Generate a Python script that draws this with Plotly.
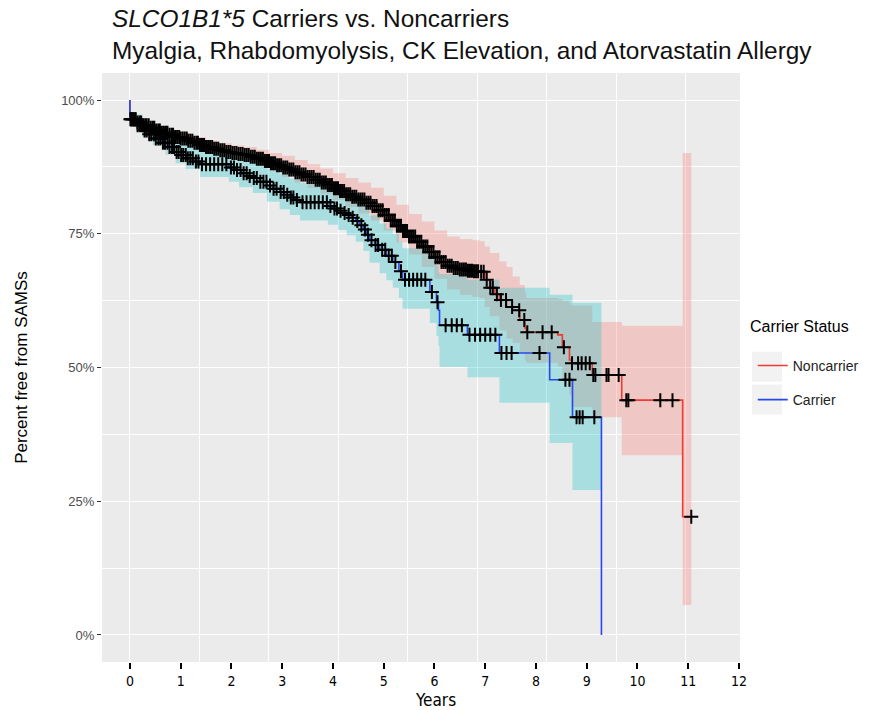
import plotly.graph_objects as go

# ---------------- data ----------------
years_ticks = list(range(0, 13))
pct_ticks = [0, 25, 50, 75, 100]
pct_labels = ["0%", "25%", "50%", "75%", "100%"]

# Noncarrier Kaplan-Meier steps (years, % free)
nc_t = [0, 0, 0.125, 0.25, 0.375, 0.5, 0.625, 0.75, 0.875, 1.0, 1.125, 1.25, 1.375, 1.5, 1.625, 1.75,
        1.875, 2.0, 2.125, 2.25, 2.375, 2.5, 2.625, 2.75, 2.875, 3.0, 3.125, 3.25, 3.375, 3.5, 3.625,
        3.75, 3.875, 4.0, 4.125, 4.25, 4.375, 4.5, 4.625, 4.75, 4.875, 5.0, 5.125, 5.25, 5.375, 5.5,
        5.625, 5.75, 5.875, 6.0, 6.125, 6.25, 6.375, 6.5, 6.625, 6.75, 6.89, 6.99, 7.09, 7.19, 7.28,
        7.42, 7.54, 7.68, 7.78, 7.81, 8.43, 8.52, 8.66, 8.70, 9.11, 9.69, 10.89]
nc_s = [100, 96.4, 95.8, 95.3, 94.8, 94.3, 93.9, 93.5, 93.1, 92.8, 92.4, 92.0, 91.6, 91.2, 90.9, 90.6,
        90.3, 90.1, 89.9, 89.7, 89.4, 89.0, 88.6, 88.2, 87.8, 87.4, 87.0, 86.5, 86.1, 85.6, 85.1,
        84.6, 84.1, 83.5, 83.0, 82.4, 81.9, 81.4, 80.8, 80.2, 79.4, 78.5, 77.5, 76.5, 75.5, 74.5,
        73.5, 72.6, 71.6, 70.6, 69.7, 69.0, 68.6, 68.3, 68.1, 68.0, 67.9, 66.4, 64.9, 63.7, 62.6,
        61.3, 60.7, 58.9, 57.4, 56.6, 56.1, 53.8, 51.4, 50.8, 48.6, 43.9, 22.1]
nc_end = 11.06

# Noncarrier confidence band (years, upper %, lower %)
nc_band_t = [0, 0.25, 0.5, 0.75, 1.0, 1.25, 1.5, 1.75, 2.0, 2.25, 2.5, 2.75, 3.0, 3.25, 3.5, 3.75,
             4.0, 4.25, 4.5, 4.75, 5.0, 5.25, 5.5, 5.75, 6.0, 6.25, 6.5, 6.75, 6.89, 6.99, 7.09, 7.28,
             7.42, 7.54, 7.68, 7.78, 7.81, 8.43, 8.52, 8.66, 8.70, 9.11, 9.69, 10.89]
nc_upper = [97.0, 96.0, 95.1, 94.4, 93.8, 93.1, 92.4, 91.9, 91.5, 91.2, 90.7, 90.1, 89.6, 88.8, 88.0,
            87.2, 86.3, 85.4, 84.6, 83.6, 82.1, 80.4, 78.7, 77.3, 75.6, 74.5, 74.0, 73.8, 73.6, 72.6,
            71.4, 69.8, 68.8, 67.0, 65.4, 64.0, 63.0, 62.8, 62.5, 62.0, 61.6, 58.5, 57.8, 90.1]
nc_lower = [95.9, 94.7, 93.6, 92.8, 92.0, 91.1, 90.2, 89.5, 88.9, 88.4, 87.6, 86.7, 85.6, 84.6, 83.6,
            82.5, 81.3, 80.0, 78.8, 77.5, 75.6, 73.4, 71.1, 68.8, 66.6, 64.6, 63.6, 63.2, 63.0, 61.3,
            59.6, 56.9, 55.4, 54.6, 52.8, 51.3, 50.9, 50.2, 47.5, 44.8, 42.6, 40.7, 33.6, 5.6]

nc_censor = [0.01, 0.04, 0.08, 0.11, 0.15, 0.19, 0.22, 0.26, 0.30, 0.33, 0.37, 0.41, 0.45, 0.48, 0.52,
             0.56, 0.59, 0.63, 0.67, 0.71, 0.74, 0.78, 0.82, 0.85, 0.89, 0.93, 0.97, 1.00, 1.04, 1.08,
             1.12, 1.15, 1.19, 1.23, 1.27, 1.31, 1.34, 1.38, 1.42, 1.46, 1.50, 1.54, 1.58, 1.62, 1.66,
             1.70, 1.74, 1.78, 1.82, 1.86, 1.90, 1.94, 1.98, 2.02, 2.06, 2.10, 2.14, 2.18, 2.22, 2.26,
             2.30, 2.34, 2.38, 2.42, 2.46, 2.50, 2.54, 2.58, 2.62, 2.66, 2.70, 2.74, 2.78, 2.82, 2.86,
             2.90, 2.94, 2.98, 3.02, 3.06, 3.10, 3.14, 3.18, 3.22, 3.26, 3.30, 3.34, 3.38, 3.42, 3.46,
             3.50, 3.54, 3.58, 3.62, 3.66, 3.70, 3.74, 3.78, 3.82, 3.86, 3.90, 3.94, 3.98, 4.02, 4.06,
             4.10, 4.14, 4.18, 4.22, 4.26, 4.30, 4.34, 4.38, 4.42, 4.46, 4.50, 4.54, 4.58, 4.62, 4.66,
             4.70, 4.74, 4.78, 4.82, 4.86, 4.90, 4.94, 4.98, 5.02, 5.06, 5.10, 5.14, 5.18, 5.22, 5.26,
             5.30, 5.34, 5.38, 5.42, 5.46, 5.50, 5.54, 5.58, 5.62, 5.66, 5.70, 5.74, 5.78, 5.82, 5.86,
             5.90, 5.94, 5.98, 6.02, 6.06, 6.10, 6.14, 6.18, 6.22, 6.26, 6.30, 6.34, 6.38, 6.42, 6.46,
             6.50, 6.54, 6.58, 6.62, 6.66, 6.70, 6.74, 6.78, 6.82, 6.86, 6.92, 6.97, 7.03, 7.10, 7.15,
             7.23, 7.31, 7.41, 7.53, 7.67, 7.77, 7.83, 8.13, 8.31, 8.55, 8.71, 8.83, 8.90, 8.98, 9.06,
             9.13, 9.17, 9.39, 9.43, 9.63, 9.78, 9.82, 10.45, 10.69, 11.06]

# Carrier Kaplan-Meier steps (years, % free)
ca_t = [0, 0, 0.125, 0.25, 0.375, 0.5, 0.625, 0.75, 0.875, 1.0, 1.125, 1.25, 1.38, 1.95, 2.07, 2.2,
        2.32, 2.42, 2.55, 2.7, 2.82, 2.95, 3.05, 3.15, 3.25, 3.35, 3.9, 4.0, 4.1, 4.2, 4.27, 4.36,
        4.45, 4.52, 4.6, 4.66, 4.72, 4.82, 4.92, 5.05, 5.18, 5.30, 5.37, 5.91, 6.04, 6.08, 6.10, 6.65,
        7.28, 8.27, 8.72, 9.29]
ca_s = [100, 96.4, 95.3, 94.3, 93.6, 92.8, 92.0, 91.2, 90.3, 89.7, 89.1, 88.5, 88.0, 87.4, 86.9, 86.3,
        85.8, 85.4, 84.7, 84.0, 83.4, 82.8, 82.3, 81.8, 81.3, 80.9, 80.2, 79.7, 79.3, 78.9, 78.5, 78.0,
        77.4, 76.6, 75.8, 74.8, 73.8, 72.9, 72.0, 70.9, 69.7, 68.0, 66.4, 64.1, 62.2, 60.7, 57.9, 56.1,
        52.7, 47.7, 40.7, 0]

# Carrier confidence band (years, upper %, lower %)
ca_band_t = [0, 0.25, 0.45, 0.7, 0.9, 1.1, 1.38, 1.95, 2.15, 2.42, 2.7, 2.95, 3.15, 3.35, 3.9, 4.1,
             4.27, 4.45, 4.6, 4.72, 4.92, 5.05, 5.18, 5.30, 5.37, 5.91, 6.04, 6.08, 6.10, 6.65, 7.28,
             8.27, 8.72]
ca_upper = [97.3, 95.7, 94.8, 93.4, 92.3, 91.6, 90.6, 89.9, 89.3, 88.4, 87.2, 86.2, 85.3, 84.5, 83.9,
            83.2, 82.5, 81.6, 80.2, 78.4, 76.9, 76.0, 75.0, 73.5, 72.3, 70.5, 69.0, 67.8, 67.5, 66.4,
            64.9, 63.6, 62.1]
ca_lower = [95.6, 93.0, 91.6, 89.8, 88.2, 87.1, 85.6, 84.7, 83.7, 82.6, 81.0, 79.6, 78.5, 77.5, 76.7,
            75.7, 74.7, 73.5, 71.8, 69.6, 67.6, 66.3, 64.9, 63.0, 61.0, 58.3, 55.9, 54.0, 50.1, 48.2,
            43.4, 35.9, 27.1]

ca_censor = [0.02, 0.06, 0.11, 0.15, 0.20, 0.24, 0.29, 0.33, 0.38, 0.42, 0.47, 0.51, 0.56, 0.60, 0.65,
             0.69, 0.74, 0.78, 0.83, 0.87, 0.92, 0.96, 1.01, 1.05, 1.10, 1.14, 1.19, 1.24, 1.30, 1.35,
             1.42, 1.50, 1.58, 1.66, 1.74, 1.82, 1.90, 1.99, 2.05, 2.11, 2.18, 2.24, 2.30, 2.36, 2.44,
             2.50, 2.57, 2.63, 2.69, 2.76, 2.83, 2.89, 2.97, 3.03, 3.10, 3.17, 3.22, 3.29, 3.40, 3.48,
             3.56, 3.64, 3.72, 3.80, 3.88, 3.95, 4.03, 4.08, 4.15, 4.23, 4.31, 4.39, 4.48, 4.56, 4.63,
             4.69, 4.76, 4.84, 4.89, 4.97, 5.03, 5.10, 5.16, 5.23, 5.34, 5.42, 5.50, 5.58, 5.66, 5.74,
             5.82, 5.95, 6.06, 6.22, 6.34, 6.44, 6.54, 6.69, 6.80, 6.90, 7.00, 7.10, 7.20, 7.32, 7.42,
             7.52, 8.07, 8.58, 8.66, 8.80, 8.86, 8.92, 9.15]

# ---------------- helpers ----------------
def surv_at(ts, ss, t):
    val = ss[0]
    for ti, si in zip(ts, ss):
        if ti <= t:
            val = si
    return val

NC_LINE = "#EE3B33"
CA_LINE = "#2748EE"
NC_FILL = "rgba(248,118,109,0.30)"
CA_FILL = "rgba(0,191,196,0.28)"
NARROW = "Liberation Sans Narrow, DejaVu Sans Condensed, sans-serif"

fig = go.Figure()

# confidence bands
nc_bx = nc_band_t + [nc_end]
fig.add_trace(go.Scatter(x=nc_bx, y=nc_upper + [nc_upper[-1]], mode="lines", line=dict(width=0, shape="hv"),
                         showlegend=False, hoverinfo="skip"))
fig.add_trace(go.Scatter(x=nc_bx, y=nc_lower + [nc_lower[-1]], mode="lines", line=dict(width=0, shape="hv"),
                         fill="tonexty", fillcolor=NC_FILL, showlegend=False, hoverinfo="skip"))
ca_bx = ca_band_t + [ca_t[-1]]
fig.add_trace(go.Scatter(x=ca_bx, y=ca_upper + [ca_upper[-1]], mode="lines", line=dict(width=0, shape="hv"),
                         showlegend=False, hoverinfo="skip"))
fig.add_trace(go.Scatter(x=ca_bx, y=ca_lower + [ca_lower[-1]], mode="lines", line=dict(width=0, shape="hv"),
                         fill="tonexty", fillcolor=CA_FILL, showlegend=False, hoverinfo="skip"))

# survival curves
fig.add_trace(go.Scatter(x=nc_t + [nc_end], y=nc_s + [nc_s[-1]], mode="lines", name="Noncarrier",
                         line=dict(color=NC_LINE, width=1.6, shape="hv"), legendgroup="nc"))
fig.add_trace(go.Scatter(x=ca_t, y=ca_s, mode="lines", name="Carrier",
                         line=dict(color=CA_LINE, width=1.6, shape="hv"), legendgroup="ca"))

# censor marks
fig.add_trace(go.Scatter(x=nc_censor, y=[surv_at(nc_t, nc_s, t) for t in nc_censor], mode="markers",
                         marker=dict(symbol="cross-thin", size=10, line=dict(color="black", width=2)),
                         showlegend=False, hoverinfo="skip"))
fig.add_trace(go.Scatter(x=ca_censor, y=[surv_at(ca_t, ca_s, t) for t in ca_censor], mode="markers",
                         marker=dict(symbol="cross-thin", size=10, line=dict(color="black", width=2)),
                         showlegend=False, hoverinfo="skip"))

# invisible trace for the grid axis
fig.add_trace(go.Scatter(x=[None], y=[None], xaxis="x2", showlegend=False, hoverinfo="skip"))

XR = [-0.55, 12.02]
fig.update_layout(
    width=879, height=710,
    margin=dict(l=102, r=139, t=73, b=48),
    paper_bgcolor="white", plot_bgcolor="#EBEBEB",
    font=dict(family="Liberation Sans, Arial, sans-serif", color="black"),
    title=dict(text="<i>SLCO1B1*5</i> Carriers vs. Noncarriers<br>Myalgia, Rhabdomyolysis, CK Elevation, and Atorvastatin Allergy",
               x=112 / 879, xanchor="left", xref="container", y=0.962, yanchor="top", yref="container",
               font=dict(size=24.4, color="#111111")),
    xaxis=dict(range=XR, tickvals=years_ticks, ticktext=[str(v) for v in years_ticks],
               showgrid=False, zeroline=False, showline=False,
               ticks="outside", ticklen=6, tickwidth=2, tickcolor="black",
               tickfont=dict(family=NARROW, size=14, color="black"),
               automargin=False),
    xaxis2=dict(range=XR, overlaying="x", anchor="y", side="bottom", tick0=0, dtick=1000 / 365.25,
                showgrid=True, gridcolor="white", gridwidth=1.2, showticklabels=False, ticks="",
                zeroline=False, showline=False,
                minor=dict(tick0=0, dtick=500 / 365.25, showgrid=True, gridcolor="white", gridwidth=0.6)),
    yaxis=dict(range=[-5.05, 105.05], tickvals=pct_ticks, ticktext=pct_labels,
               showgrid=True, gridcolor="white", gridwidth=1.2, zeroline=False, showline=False,
               ticks="outside", ticklen=4, tickwidth=1, tickcolor="#333333",
               tickfont=dict(size=13, color="#4D4D4D"),
               minor=dict(tick0=0, dtick=12.5, showgrid=True, gridcolor="white", gridwidth=0.6),
               title=dict(text="Percent free from SAMSs", font=dict(size=17, color="black"), standoff=29),
               automargin=False),
    legend=dict(x=1.02, y=0.530, xanchor="left", yanchor="top", bgcolor="rgba(0,0,0,0)",
                font=dict(size=14, color="#222222"), tracegroupgap=13, itemwidth=30),
    showlegend=True,
    annotations=[dict(text="Carrier Status", xref="paper", yref="paper", x=1.0125, y=0.57,
                      xanchor="left", yanchor="middle", showarrow=False,
                      font=dict(size=16, color="black")),
                 dict(text="Years", xref="paper", yref="paper", x=(435 - 102) / 638, y=-37.5 / 589,
                      xanchor="center", yanchor="middle", showarrow=False,
                      font=dict(family=NARROW, size=17, color="black"))],
    shapes=[dict(type="rect", xref="paper", yref="paper", x0=1.0188, x1=1.0658, y0=0.476, y1=0.527,
                 fillcolor="#F2F2F2", line=dict(width=0), layer="below"),
            dict(type="rect", xref="paper", yref="paper", x0=1.0188, x1=1.0658, y0=0.420, y1=0.471,
                 fillcolor="#F2F2F2", line=dict(width=0), layer="below")],
)

fig.write_html("out.html", config={"displayModeBar": False},
               post_script="document.body.style.margin='0';document.body.style.padding='0';")
